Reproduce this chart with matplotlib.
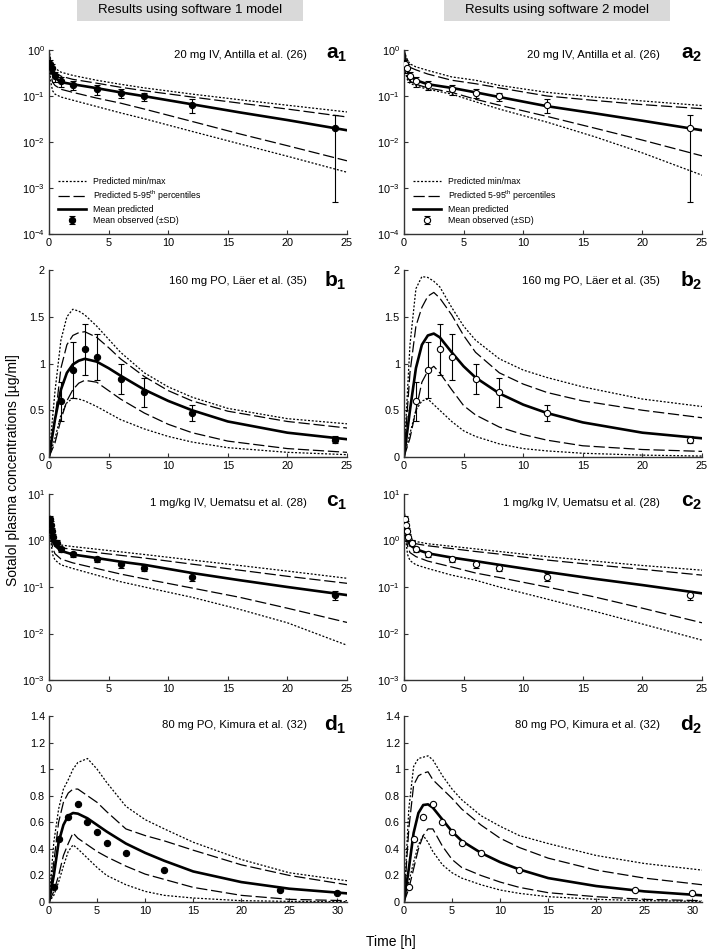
import numpy as np
import matplotlib
matplotlib.use("Agg")
import matplotlib.pyplot as plt
from matplotlib.lines import Line2D
from matplotlib.patches import Rectangle
from matplotlib.ticker import NullLocator, LogFormatterSciNotation

plt.rcParams['font.family'] = ['Liberation Sans', 'DejaVu Sans']
plt.rcParams['mathtext.fontset'] = 'custom'
plt.rcParams['mathtext.rm'] = 'Liberation Sans'
plt.rcParams['mathtext.it'] = 'Liberation Sans:italic'
plt.rcParams['mathtext.bf'] = 'Liberation Sans:bold'

# ---------------- data ----------------
# time grids
t_iv = [0.05, 0.15, 0.3, 0.5, 1, 2, 4, 6, 8, 12, 16, 20, 25]
t_b = [0, 0.5, 1, 1.5, 2, 2.5, 3, 4, 5, 6, 8, 10, 12, 15, 20, 25]
t_d = [0, 0.5, 1, 1.5, 2, 2.5, 3, 4, 5, 6, 8, 10, 12, 15, 20, 25, 31]

# panel a (20 mg IV, Antilla)
a1_max = [0.85, 0.6, 0.45, 0.4, 0.33, 0.28, 0.22, 0.18, 0.15, 0.11, 0.083, 0.063, 0.045]
a1_p95 = [0.75, 0.5, 0.38, 0.33, 0.27, 0.23, 0.19, 0.155, 0.13, 0.095, 0.07, 0.052, 0.035]
a1_mean = [0.6, 0.42, 0.3, 0.25, 0.2, 0.18, 0.148, 0.12, 0.099, 0.066, 0.044, 0.03, 0.018]
a1_p5 = [0.5, 0.3, 0.2, 0.17, 0.14, 0.12, 0.09, 0.07, 0.052, 0.028, 0.015, 0.0083, 0.0039]
a1_min = [0.4, 0.2, 0.13, 0.11, 0.095, 0.081, 0.059, 0.043, 0.032, 0.017, 0.0091, 0.0049, 0.0022]

a2_max = [0.95, 0.75, 0.6, 0.5, 0.43, 0.36, 0.26, 0.22, 0.17, 0.12, 0.095, 0.078, 0.062]
a2_p95 = [0.85, 0.62, 0.5, 0.42, 0.37, 0.3, 0.22, 0.185, 0.15, 0.1, 0.08, 0.065, 0.053]
a2_mean = [0.8, 0.5, 0.35, 0.28, 0.22, 0.18, 0.15, 0.12, 0.095, 0.06, 0.042, 0.029, 0.018]
a2_p5 = [0.6, 0.35, 0.25, 0.21, 0.18, 0.15, 0.12, 0.085, 0.063, 0.036, 0.02, 0.011, 0.005]
a2_min = [0.5, 0.3, 0.22, 0.19, 0.166, 0.14, 0.11, 0.075, 0.052, 0.027, 0.013, 0.0058, 0.0019]

obs_a_t = [0.1, 0.25, 0.5, 1, 2, 4, 6, 8, 12, 24]
obs_a = [0.5, 0.4, 0.27, 0.21, 0.177, 0.14, 0.116, 0.098, 0.065, 0.02]
obs_a_sd = [0.12, 0.09, 0.07, 0.05, 0.04, 0.035, 0.025, 0.02, 0.022, 0.0195]

# panel b (160 mg PO, Laer)
b1_max = [0, 0.7, 1.25, 1.5, 1.58, 1.56, 1.52, 1.4, 1.26, 1.12, 0.9, 0.75, 0.64, 0.52, 0.41, 0.355]
b1_p95 = [0, 0.4, 0.95, 1.2, 1.3, 1.33, 1.34, 1.28, 1.17, 1.05, 0.86, 0.71, 0.6, 0.49, 0.38, 0.31]
b1_mean = [0, 0.4, 0.72, 0.9, 0.99, 1.03, 1.05, 1.02, 0.95, 0.87, 0.72, 0.6, 0.5, 0.38, 0.26, 0.19]
b1_p5 = [0, 0.15, 0.4, 0.6, 0.72, 0.79, 0.82, 0.8, 0.71, 0.62, 0.47, 0.35, 0.26, 0.17, 0.09, 0.05]
b1_min = [0, 0.2, 0.45, 0.58, 0.63, 0.62, 0.6, 0.54, 0.47, 0.4, 0.3, 0.22, 0.16, 0.1, 0.05, 0.025]

b2_max = [0, 1.2, 1.8, 1.93, 1.92, 1.88, 1.82, 1.6, 1.4, 1.25, 1.05, 0.93, 0.85, 0.75, 0.62, 0.54]
b2_p95 = [0, 0.9, 1.4, 1.6, 1.72, 1.76, 1.7, 1.52, 1.3, 1.12, 0.9, 0.78, 0.69, 0.6, 0.5, 0.42]
b2_mean = [0, 0.5, 0.95, 1.2, 1.3, 1.32, 1.28, 1.12, 0.97, 0.85, 0.68, 0.56, 0.47, 0.37, 0.26, 0.2]
b2_p5 = [0, 0.2, 0.5, 0.8, 0.92, 0.97, 0.9, 0.72, 0.55, 0.45, 0.32, 0.24, 0.18, 0.12, 0.08, 0.06]
b2_min = [0, 0.25, 0.5, 0.6, 0.62, 0.56, 0.5, 0.38, 0.28, 0.22, 0.14, 0.09, 0.065, 0.04, 0.02, 0.01]

obs_b_t = [1, 2, 3, 4, 6, 8, 12, 24]
obs_b = [0.596, 0.93, 1.15, 1.07, 0.835, 0.69, 0.47, 0.186]
obs_b_sd = [0.21, 0.3, 0.275, 0.25, 0.165, 0.155, 0.09, 0.04]

# panel c (1 mg/kg IV, Uematsu)
c1_max = [3.5, 2.2, 1.3, 1.0, 0.8, 0.74, 0.65, 0.57, 0.5, 0.38, 0.29, 0.22, 0.154]
c1_p95 = [3.2, 2.0, 1.1, 0.85, 0.7, 0.64, 0.55, 0.48, 0.42, 0.31, 0.23, 0.17, 0.12]
c1_mean = [3.0, 1.8, 1.0, 0.78, 0.6, 0.5, 0.42, 0.35, 0.3, 0.2, 0.14, 0.1, 0.067]
c1_p5 = [2.6, 1.4, 0.7, 0.52, 0.4, 0.33, 0.25, 0.19, 0.15, 0.095, 0.06, 0.035, 0.0173]
c1_min = [2.2, 1.0, 0.5, 0.38, 0.3, 0.25, 0.18, 0.13, 0.1, 0.06, 0.033, 0.017, 0.0056]

c2_max = [3.8, 2.3, 1.5, 1.15, 0.95, 0.85, 0.75, 0.66, 0.58, 0.45, 0.36, 0.29, 0.23]
c2_p95 = [3.5, 2.1, 1.3, 1.0, 0.85, 0.77, 0.67, 0.58, 0.51, 0.38, 0.3, 0.24, 0.18]
c2_mean = [3.0, 1.9, 1.1, 0.8, 0.65, 0.53, 0.43, 0.36, 0.3, 0.21, 0.15, 0.11, 0.073]
c2_p5 = [2.6, 1.4, 0.75, 0.55, 0.45, 0.36, 0.27, 0.2, 0.16, 0.1, 0.061, 0.035, 0.017]
c2_min = [2.2, 1.0, 0.5, 0.37, 0.3, 0.25, 0.18, 0.14, 0.1, 0.055, 0.03, 0.016, 0.0072]

obs_c_t = [0.083, 0.167, 0.25, 0.33, 0.67, 1, 2, 4, 6, 8, 12, 24]
obs_c = [2.9, 2.2, 1.6, 1.2, 0.9, 0.65, 0.51, 0.395, 0.31, 0.26, 0.167, 0.067]
obs_c_sd = [0.5, 0.4, 0.3, 0.2, 0.12, 0.08, 0.06, 0.05, 0.05, 0.04, 0.03, 0.015]

# panel d (80 mg PO, Kimura)
d1_max = [0, 0.45, 0.7, 0.85, 0.92, 1.0, 1.05, 1.08, 1.0, 0.9, 0.72, 0.62, 0.55, 0.45, 0.32, 0.22, 0.16]
d1_p95 = [0, 0.3, 0.6, 0.75, 0.82, 0.85, 0.85, 0.8, 0.75, 0.68, 0.55, 0.5, 0.46, 0.39, 0.28, 0.2, 0.13]
d1_mean = [0, 0.2, 0.45, 0.58, 0.65, 0.67, 0.665, 0.63, 0.58, 0.53, 0.44, 0.37, 0.31, 0.23, 0.15, 0.1, 0.065]
d1_p5 = [0, 0.08, 0.2, 0.35, 0.44, 0.52, 0.48, 0.43, 0.38, 0.34, 0.27, 0.21, 0.17, 0.11, 0.05, 0.02, 0.01]
d1_min = [0, 0.05, 0.15, 0.27, 0.38, 0.43, 0.4, 0.33, 0.26, 0.2, 0.13, 0.08, 0.05, 0.03, 0.01, 0.005, 0.003]

d2_max = [0, 0.7, 1.02, 1.08, 1.09, 1.1, 1.07, 0.95, 0.85, 0.77, 0.65, 0.57, 0.5, 0.44, 0.35, 0.29, 0.24]
d2_p95 = [0, 0.55, 0.88, 0.95, 0.97, 0.98, 0.92, 0.85, 0.78, 0.7, 0.58, 0.48, 0.41, 0.33, 0.24, 0.18, 0.13]
d2_mean = [0, 0.25, 0.52, 0.67, 0.73, 0.735, 0.71, 0.62, 0.53, 0.46, 0.37, 0.3, 0.245, 0.18, 0.12, 0.08, 0.05]
d2_p5 = [0, 0.1, 0.25, 0.4, 0.5, 0.55, 0.55, 0.42, 0.32, 0.26, 0.2, 0.15, 0.11, 0.07, 0.04, 0.02, 0.01]
d2_min = [0, 0.15, 0.3, 0.43, 0.5, 0.45, 0.38, 0.28, 0.22, 0.18, 0.13, 0.09, 0.065, 0.04, 0.02, 0.01, 0.005]

obs_d_t = [0.5, 1, 2, 3, 4, 5, 6, 8, 12, 24, 30]
obs_d = [0.11, 0.476, 0.64, 0.74, 0.604, 0.529, 0.444, 0.366, 0.24, 0.093, 0.07]

titles = ["20 mg IV, Antilla et al. (26)", "160 mg PO, Läer et al. (35)",
          "1 mg/kg IV, Uematsu et al. (28)", "80 mg PO, Kimura et al. (32)"]
letters = ["a", "b", "c", "d"]
headers = ["Results using software 1 model", "Results using software 2 model"]
legend_labels = ['Predicted min/max', 'Predicted 5-95$^{\\mathrm{th}}$ percentiles',
                 'Mean predicted', 'Mean observed (±SD)']

# ---------------- figure ----------------
W, H = 709, 951
fig = plt.figure(figsize=(W / 100, H / 100), dpi=100)

def fx(px):
    return px / W

def fy(py):
    return 1 - py / H

col_left = [49, 404]
col_w = 298
rows = [(50, 234), (270, 457), (494, 680), (716, 902)]
title_y = [0.973, 0.941, 0.952, 0.952]

curves = {
    (0, 0): (t_iv, a1_max, a1_p95, a1_mean, a1_p5, a1_min),
    (0, 1): (t_iv, a2_max, a2_p95, a2_mean, a2_p5, a2_min),
    (1, 0): (t_b, b1_max, b1_p95, b1_mean, b1_p5, b1_min),
    (1, 1): (t_b, b2_max, b2_p95, b2_mean, b2_p5, b2_min),
    (2, 0): (t_iv, c1_max, c1_p95, c1_mean, c1_p5, c1_min),
    (2, 1): (t_iv, c2_max, c2_p95, c2_mean, c2_p5, c2_min),
    (3, 0): (t_d, d1_max, d1_p95, d1_mean, d1_p5, d1_min),
    (3, 1): (t_d, d2_max, d2_p95, d2_mean, d2_p5, d2_min),
}
obs = [(obs_a_t, obs_a, obs_a_sd), (obs_b_t, obs_b, obs_b_sd),
       (obs_c_t, obs_c, obs_c_sd), (obs_d_t, obs_d, None)]

dot_style = dict(color='black', lw=0.9, dashes=(1.6, 1.4))
dash_style = dict(color='black', lw=0.9, dashes=(9, 3))
solid_style = dict(color='black', lw=1.9)

axcol = '#333333'
for r, (top, bot) in enumerate(rows):
    for c in range(2):
        ax = fig.add_axes([fx(col_left[c]), fy(bot), fx(col_w), (bot - top) / H])
        t, mx, p95, mn, p5, mi = curves[(r, c)]
        ax.plot(t, mx, **dot_style)
        ax.plot(t, mi, **dot_style)
        ax.plot(t, p95, **dash_style)
        ax.plot(t, p5, **dash_style)
        ax.plot(t, mn, **solid_style)
        ot, ov, osd = obs[r]
        mfc = 'black' if c == 0 else 'white'
        if osd is not None:
            ax.errorbar(ot, ov, yerr=osd, fmt='o', ms=4.5, mfc=mfc, mec='black', mew=0.8,
                        ecolor='black', elinewidth=0.8, capsize=2.5, capthick=0.8, zorder=5)
        else:
            ax.plot(ot, ov, 'o', ms=4.5, mfc=mfc, mec='black', mew=0.8, zorder=5)

        if r in (0, 2):
            ax.set_yscale('log')
            if r == 0:
                ax.set_ylim(1e-4, 1)
                ax.set_yticks([1e-4, 1e-3, 1e-2, 1e-1, 1])
            else:
                ax.set_ylim(1e-3, 10)
                ax.set_yticks([1e-3, 1e-2, 1e-1, 1, 10])
            ax.yaxis.set_major_formatter(LogFormatterSciNotation())
            ax.yaxis.set_minor_locator(NullLocator())
        elif r == 1:
            ax.set_ylim(0, 2)
            ax.set_yticks([0, 0.5, 1, 1.5, 2])
            ax.set_yticklabels(['0', '0.5', '1', '1.5', '2'])
        else:
            ax.set_ylim(0, 1.4)
            ax.set_yticks([0, 0.2, 0.4, 0.6, 0.8, 1.0, 1.2, 1.4])
            ax.set_yticklabels(['0', '0.2', '0.4', '0.6', '0.8', '1', '1.2', '1.4'])
        if r == 3:
            ax.set_xlim(0, 31)
            ax.set_xticks([0, 5, 10, 15, 20, 25, 30])
        else:
            ax.set_xlim(0, 25)
            ax.set_xticks([0, 5, 10, 15, 20, 25])

        for s in ['top', 'right']:
            ax.spines[s].set_visible(False)
        for s in ['left', 'bottom']:
            ax.spines[s].set_color(axcol)
            ax.spines[s].set_linewidth(1.0)
        ax.tick_params(direction='in', length=3, width=0.8, color=axcol,
                       labelsize=7.8, pad=3)
        ax.patch.set_alpha(0)

        ax.text(0.865 if c == 0 else 0.86, title_y[r], titles[r], transform=ax.transAxes,
                ha='right', va='center', fontsize=8.2)
        ax.text(1.0, title_y[r], r'$\mathbf{%s}_{\mathbf{%d}}$' % (letters[r], c + 1),
                transform=ax.transAxes, ha='right', va='center', fontsize=15)

        if r == 0:
            h_dot = Line2D([], [], **dot_style)
            h_dash = Line2D([], [], **dash_style)
            h_solid = Line2D([], [], **solid_style)
            h_obs = ax.errorbar([np.nan], [np.nan], yerr=[1.0], fmt='o', ms=4.5, mfc=mfc,
                                mec='black', mew=0.8, ecolor='black', elinewidth=0.8,
                                capsize=2.5, capthick=0.8)
            leg = ax.legend([h_dot, h_dash, h_solid, h_obs], legend_labels,
                            loc='lower left', bbox_to_anchor=(0.02, 0.03), frameon=False,
                            fontsize=6.3, handlelength=3.2, labelspacing=0.25,
                            handletextpad=0.8, borderaxespad=0.0)

# headers
for c, (x0, x1) in enumerate([(77, 303), (444, 670)]):
    fig.patches.append(Rectangle((fx(x0), fy(21)), fx(x1 - x0), 21 / H,
                                 transform=fig.transFigure, facecolor='#d9d9d9',
                                 edgecolor='none'))
    fig.text(fx((x0 + x1) / 2), fy(10.5), headers[c], ha='center', va='center', fontsize=9.5)

fig.text(fx(13), fy(470), 'Sotalol plasma concentrations [µg/ml]', rotation=90,
         ha='center', va='center', fontsize=10)
fig.text(fx(391), fy(942), 'Time [h]', ha='center', va='center', fontsize=10)

fig.savefig('out.png', dpi=100)
